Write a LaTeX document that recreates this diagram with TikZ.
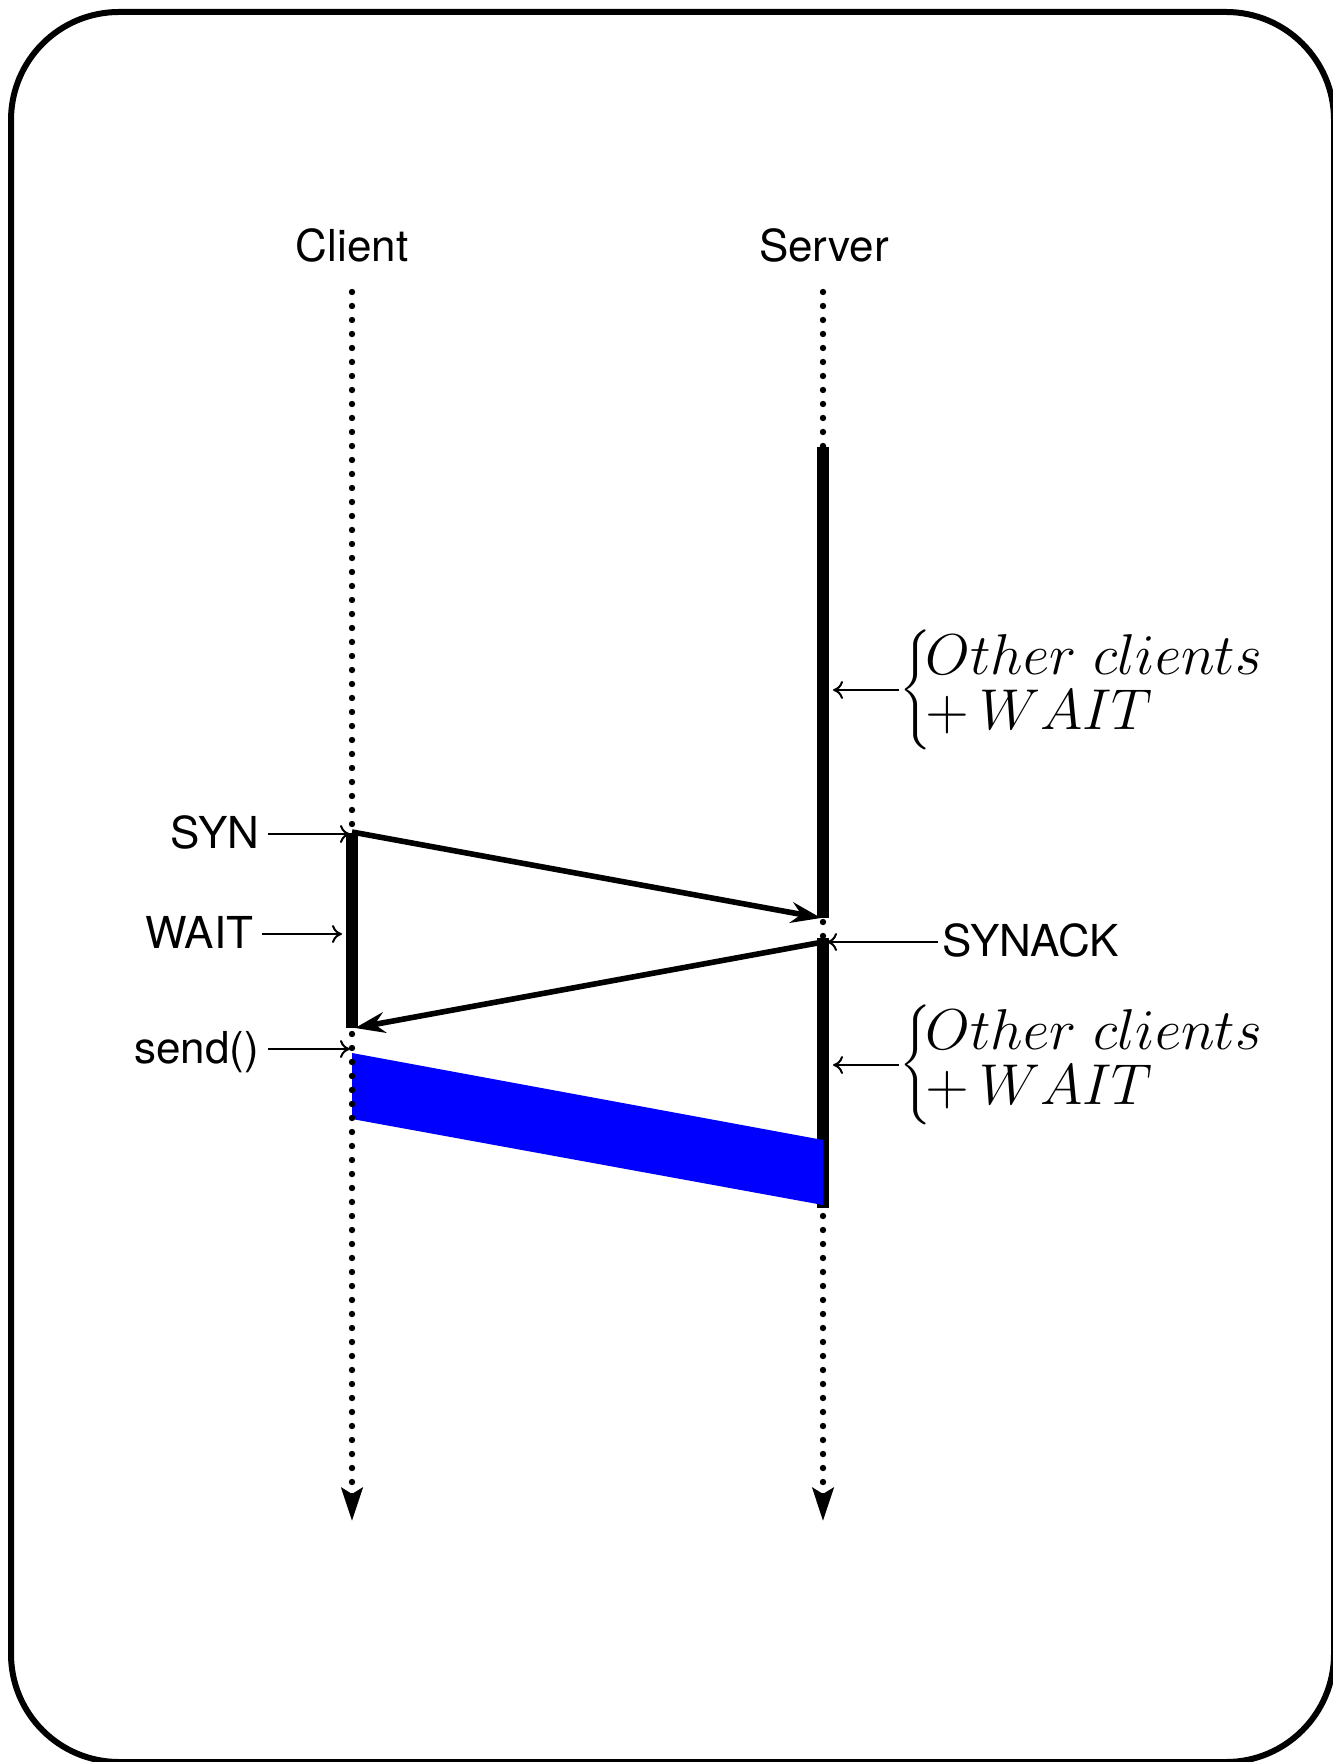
\documentclass[tikz,border=0pt]{standalone}
\usepackage{fontspec}
\newfontfamily\helv{TeX Gyre Heros}
\usetikzlibrary{arrows.meta}
\begin{document}
\begin{tikzpicture}[x=0.25pt,y=-0.25pt,
  every node/.style={inner sep=0pt},
  sans/.style={font=\fontsize{11}{13.6}\selectfont\helv},
  tag/.style={sans, inner xsep=2pt, text height=7pt, text depth=0pt},
  lifeline/.style={line width=1.6pt, line cap=round, dash pattern=on 0pt off 3.5pt,
    -{Stealth[length=8.25pt,width=5.25pt,inset=1.5pt]}},
  busy/.style={line width=3pt},
  msg/.style={line width=1.4pt, -{Stealth[length=7.5pt,width=5.2pt,inset=2.5pt]}},
  pointer/.style={line width=0.5pt, -{Computer Modern Rightarrow[length=2.5pt,width=4.5pt]}},
  mathtag/.style={font=\fontsize{13.4}{13.5}\selectfont, anchor=west},
]
\useasboundingbox (0,0) rectangle (1333,1762);
% outer frame
\draw[line width=1.5pt, rounded corners=27pt] (11,12) rectangle (1334,1762);

% column headings
\node[sans, anchor=base] (client) at (352,262) {Client};
\node[sans, anchor=base] (server) at (824,262) {Server};

% lifeline end points
\coordinate (cTop) at (352,292);
\coordinate (cEnd) at (352,1521);
\coordinate (sTop) at (823,292);
\coordinate (sEnd) at (823,1521);

% server lifeline and busy periods
\draw[lifeline] (sTop) -- (sEnd);
\coordinate (sb1) at (823,447);
\coordinate (sb2) at (823,918);
\coordinate (sb3) at (823,938);
\coordinate (sb4) at (823,1208);
\draw[busy] (sb1) -- (sb2);
\draw[busy] (sb3) -- (sb4);

% data transfer band
\coordinate (d1) at (352,1053);
\coordinate (d2) at (823,1140);
\coordinate (d3) at (823,1205);
\coordinate (d4) at (352,1119);
\fill[blue] (d1) -- (d2) -- (d3) -- (d4) -- cycle;

% client lifeline and waiting period
\draw[lifeline] (cTop) -- (cEnd);
\coordinate (cb1) at (352,833);
\coordinate (cb2) at (352,1028);
\draw[busy] (cb1) -- (cb2);

% handshake messages
\coordinate (synA) at (352,832);
\coordinate (synB) at (821,918);
\coordinate (ackA) at (823,942);
\coordinate (ackB) at (355,1028);
\draw[msg] (synA) -- (synB);
\draw[msg] (ackA) -- (ackB);

% client side labels
\node[tag, anchor=east] (syn) at (268,834) {SYN};
\coordinate (synP) at (350,834);
\draw[pointer] (syn.east) -- (synP);

\node[tag, anchor=east] (wait) at (262,934) {WAIT};
\coordinate (waitP) at (342,934);
\draw[pointer] (wait.east) -- (waitP);

\node[tag, anchor=east] (send) at (268,1049) {send()};
\coordinate (sendP) at (350,1049);
\draw[pointer] (send.east) -- (sendP);

% server side labels
\node[tag, anchor=west, inner xsep=1pt] (synack) at (938,942) {SYNACK};
\coordinate (synackP) at (827,942);
\draw[pointer] (synack.west) -- (synackP);

\node[mathtag] (other1) at (899,690)
  {$\left\{\mkern-2mu\begin{array}{@{}l@{}}Other\ clients\\ +\,WAIT\end{array}\right.$};
\coordinate (other1P) at (833,690);
\draw[pointer] (other1.west) -- (other1P);

\node[mathtag] (other2) at (899,1065)
  {$\left\{\mkern-2mu\begin{array}{@{}l@{}}Other\ clients\\ +\,WAIT\end{array}\right.$};
\coordinate (other2P) at (833,1065);
\draw[pointer] (other2.west) -- (other2P);
\end{tikzpicture}
\end{document}
